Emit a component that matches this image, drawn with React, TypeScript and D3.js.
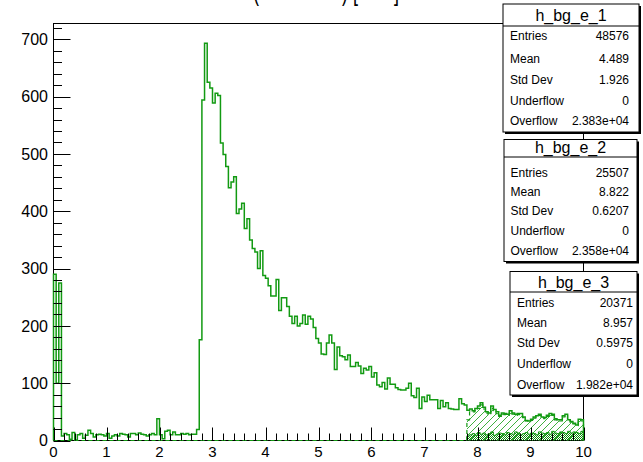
import React from "react";
import * as d3 from "d3";

// ---------------- data ----------------
const xLow = 0;
const xHigh = 10;
const binWidth = 0.05;

// h_bg_e_1 : 200 bins from 0 to 10
const h1Counts = [
  290, 100, 275, 8, 12, 10, 2, 14, 1, 10,
  12, 4, 9, 18, 12, 6, 10, 11, 10, 8,
  12, 4, 8, 10, 8, 12, 11, 10, 6, 12,
  12, 10, 13, 11, 10, 8, 10, 12, 10, 38,
  10, 3, 16, 18, 10, 15, 10, 10, 12, 11,
  12, 10, 11, 11, 19, 176, 594, 693, 625, 615,
  589, 606, 602, 519, 499, 478, 441, 451, 460, 396,
  404, 414, 370, 387, 350, 335, 329, 300, 331, 288,
  283, 270, 252, 252, 281, 227, 249, 249, 234, 217,
  204, 217, 200, 204, 219, 203, 217, 212, 197, 178,
  170, 151, 150, 170, 184, 170, 124, 163, 148, 146,
  141, 149, 129, 129, 136, 130, 117, 126, 123, 129,
  111, 118, 97, 94, 101, 90, 109, 98, 98, 92,
  89, 88, 88, 91, 100, 78, 75, 91, 56, 76,
  68, 79, 71, 71, 71, 56, 70, 59, 66, 56,
  55, 54, 54, 73, 64, 62, 53, 55, 52, 56,
  60, 66, 58, 50, 48, 60, 54, 50, 44, 48,
  47, 46, 52, 48, 46, 47, 47, 41, 35, 34,
  37, 41, 43, 46, 41, 40, 44, 47, 46, 38,
  36, 36, 43, 46, 36, 33, 30, 27, 37, 36,
];

// h_bg_e_2 and h_bg_e_3 : non-empty bins start at 7.8
const tailStart = 7.8;
const h2Counts = [
  36, 50, 50, 52, 56, 62, 55, 48, 45, 56,
  52, 47, 42, 46, 45, 44, 49, 46, 44, 45,
  45, 40, 34, 33, 35, 39, 41, 44, 40, 38,
  42, 45, 44, 36, 35, 34, 41, 44, 35, 32,
  29, 26, 35, 34,
];
const h3Counts = [
  8, 10, 12, 9, 14, 11, 13, 10, 12, 15,
  9, 11, 13, 12, 10, 14, 12, 11, 15, 13,
  10, 12, 14, 11, 13, 12, 10, 15, 13, 12,
  14, 11, 16, 13, 12, 15, 14, 12, 16, 13,
  15, 14, 12, 16,
];

const yMaxValue = 727.6;
const xTickValues = [0, 1, 2, 3, 4, 5, 6, 7, 8, 9, 10];
const yTickValues = [0, 100, 200, 300, 400, 500, 600, 700];

const titleText = "(Electron E) [GeV]";
const statNames = ["h_bg_e_1", "h_bg_e_2", "h_bg_e_3"];
const statLabels = ["Entries", "Mean", "Std Dev", "Underflow", "Overflow"];
const stat1Values = ["48576", "4.489", "1.926", "0", "2.383e+04"];
const stat2Values = ["25507", "8.822", "0.6207", "0", "2.358e+04"];
const stat3Values = ["20371", "8.957", "0.5975", "0", "1.982e+04"];

// ---------------- drawing ----------------
const FONT = "'Liberation Sans', Arial, Helvetica, sans-serif";
const GREEN = "#129a12";

type Pt = [number, number];

function stepPoints(start: number, counts: number[], lead?: number): Pt[] {
  const pts: Pt[] = [];
  if (lead !== undefined) pts.push([lead, 0]);
  pts.push([start, 0]);
  counts.forEach((c, i) => pts.push([start + i * binWidth, c]));
  const end = start + counts.length * binWidth;
  pts.push([end, counts[counts.length - 1]]);
  pts.push([end, 0]);
  return pts;
}

export default function App() {
  const left = 53.5, right = 583.5, top = 23.5, bottom = 440.5;
  const x = d3.scaleLinear().domain([xLow, xHigh]).range([left, right]);
  const y = d3.scaleLinear().domain([0, yMaxValue]).range([bottom, top]);

  const line = d3
    .line<Pt>()
    .x((d) => x(d[0]))
    .y((d) => y(d[1]))
    .curve(d3.curveStepAfter);
  const area = d3
    .area<Pt>()
    .x((d) => x(d[0]))
    .y0(y(0))
    .y1((d) => y(d[1]))
    .curve(d3.curveStepAfter);

  const h1Pts = stepPoints(xLow, h1Counts);
  const h2Pts = stepPoints(tailStart, h2Counts);
  const h3Pts = stepPoints(tailStart, h3Counts);
  const h2LinePts = stepPoints(tailStart, h2Counts, xLow);

  const yMinor = d3.range(0, yMaxValue, 20);
  const xMinor = d3.range(0, 10.001, 0.2);

  const boxes = [
    { name: statNames[0], values: stat1Values, x: 503, y: 4, w: 136, h: 128, sep: 26, tb: 21, rows: [40, 63, 84, 105, 125], lx: 510, vx: 629 },
    { name: statNames[1], values: stat2Values, x: 504, y: 139.5, w: 133, h: 122, sep: 157, tb: 153, rows: [176.5, 195.5, 215, 235, 254.5], lx: 510.5, vx: 629 },
    { name: statNames[2], values: stat3Values, x: 510, y: 271.5, w: 127, h: 123.5, sep: 292, tb: 287.5, rows: [307, 327, 347, 368, 389], lx: 517, vx: 633 },
  ];

  return (
    <svg
      width={643}
      height={462}
      style={{ position: "absolute", left: 0, top: 0, background: "#fff", fontFamily: FONT }}
    >
      <defs>
        <pattern id="hatch" patternUnits="userSpaceOnUse" width="7" height="7">
          <path d="M-1,1 l2,-2 M0,7 l7,-7 M6,8 l2,-2" stroke="#3fb03f" strokeWidth="1" />
        </pattern>
        <pattern id="dense" patternUnits="userSpaceOnUse" width="2" height="2">
          <rect x="0" y="0" width="1" height="1" fill="#0e8a0e" />
          <rect x="1" y="1" width="1" height="1" fill="#0e8a0e" />
        </pattern>
      </defs>

      <rect x={0} y={0} width={643} height={462} fill="#fff" />

      {/* title: in the reference only its lowest part is inside the canvas */}
      <text x={253} y={-0.5} fontSize={30} fill="#000" textLength={146} lengthAdjust="spacingAndGlyphs">
        {titleText}
      </text>

      {/* frame */}
      <rect x={left} y={top} width={right - left} height={bottom - top} fill="none" stroke="#000" strokeWidth={1} />

      {/* histograms */}
      <path d={line(h1Pts) || ""} fill="none" stroke={GREEN} strokeWidth={1.5} />
      <path d={area(h2Pts) || ""} fill="url(#hatch)" stroke="none" />
      <path d={line(h2LinePts) || ""} fill="none" stroke={GREEN} strokeWidth={1.2} strokeDasharray="4,3" />
      <path d={area(h3Pts) || ""} fill="url(#dense)" stroke="none" />
      <path d={line(h3Pts) || ""} fill="none" stroke={GREEN} strokeWidth={1} />

      {/* y axis ticks */}
      {yMinor.map((v) => (
        <line key={"ym" + v} x1={left} x2={left + (v % 100 === 0 ? 17 : 8.5)} y1={Math.round(y(v)) + 0.5} y2={Math.round(y(v)) + 0.5} stroke="#000" strokeWidth={1} />
      ))}
      {yTickValues.map((v) => (
        <text key={"yl" + v} x={48} y={y(v)} dy="0.36em" fontSize={16} textAnchor="end" fill="#000">
          {v}
        </text>
      ))}

      {/* x axis ticks */}
      {xMinor.map((v, i) => (
        <line key={"xm" + i} x1={Math.round(x(v)) + 0.5} x2={Math.round(x(v)) + 0.5} y1={bottom} y2={bottom - (i % 5 === 0 ? 13 : 7)} stroke="#000" strokeWidth={1} />
      ))}
      {xTickValues.map((v) => (
        <text key={"xl" + v} x={x(v)} y={457} fontSize={15} textAnchor="middle" fill="#000">
          {v}
        </text>
      ))}

      {/* stats boxes */}
      {boxes.map((b) => (
        <g key={b.name}>
          <rect x={b.x + 2} y={b.y + 2} width={b.w} height={b.h} fill="#000" />
          <rect x={b.x} y={b.y} width={b.w} height={b.h} fill="#fff" stroke="#000" strokeWidth={1} />
          <line x1={b.x} x2={b.x + b.w} y1={b.sep} y2={b.sep} stroke="#000" strokeWidth={1} />
          <text x={b.x + b.w / 2} y={b.tb} fontSize={16} textAnchor="middle" fill="#000">
            {b.name}
          </text>
          {statLabels.map((lab, i) => (
            <g key={lab}>
              <text x={b.lx} y={b.rows[i]} fontSize={12} fill="#000">
                {lab}
              </text>
              <text x={b.vx} y={b.rows[i]} fontSize={12} textAnchor="end" fill="#000">
                {b.values[i]}
              </text>
            </g>
          ))}
        </g>
      ))}
    </svg>
  );
}
